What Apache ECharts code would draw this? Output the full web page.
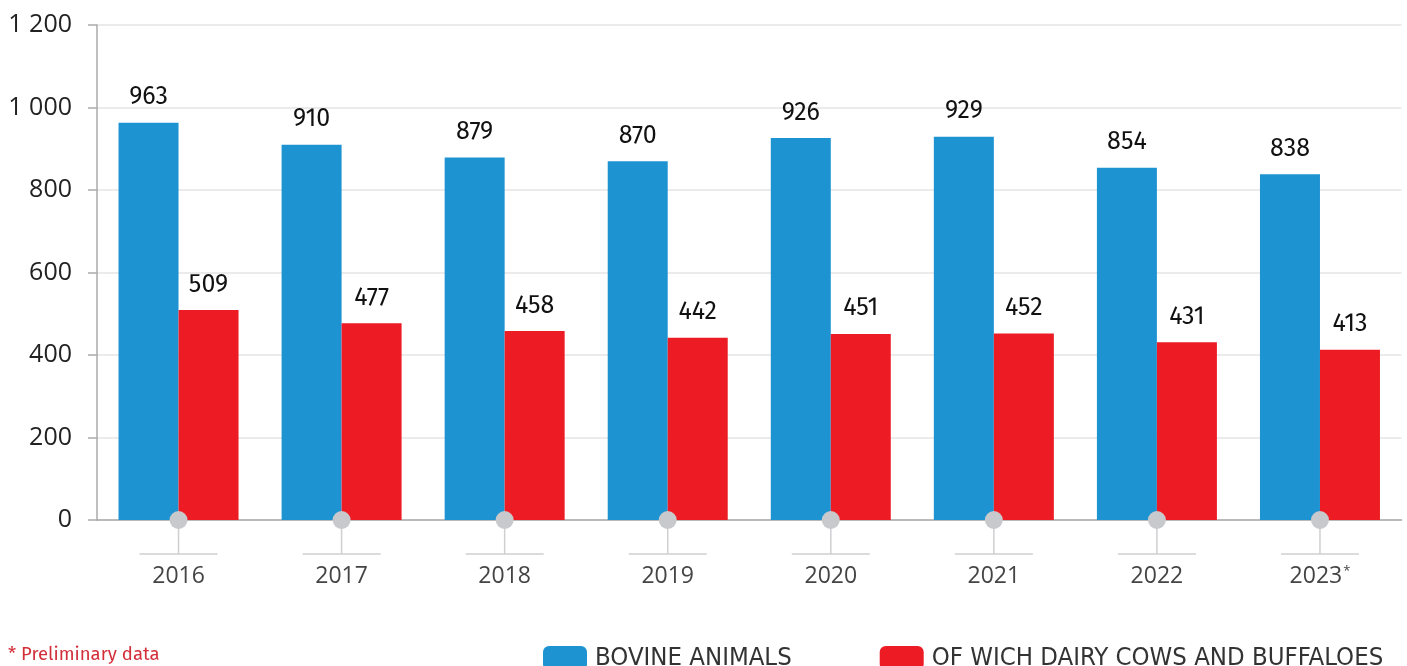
<!DOCTYPE html>
<html>
<head>
<meta charset="utf-8">
<script src="https://cdn.jsdelivr.net/npm/echarts@6/dist/echarts.min.js"></script>
<style>
html,body{margin:0;padding:0;background:#fff;}
#c{width:1407px;height:666px;}
</style>
</head>
<body>
<div id="c"></div>
<script>
const categories = ['2016','2017','2018','2019','2020','2021','2022','2023'];
const bovine = [963, 910, 879, 870, 926, 929, 854, 838];
const dairy = [509, 477, 458, 442, 451, 452, 431, 413];
const yTicks = [0, 200, 400, 600, 800, 1000, 1200];
const seriesNames = ['BOVINE ANIMALS', 'OF WICH DAIRY COWS AND BUFFALOES'];
const footnote = '* Preliminary data';
const preliminary = ['2023'];

const chart = echarts.init(document.getElementById('c'));
const fmtNum = v => String(v).replace(/\B(?=(\d{3})+(?!\d))/g, ' ');

const option = {
  animation: false,
  grid: {left: 97, top: 25, right: 5.5, bottom: 146, containLabel: false},
  legend: {
    data: seriesNames,
    left: 538, top: 640,
    itemWidth: 44, itemHeight: 24, itemGap: 88,
    icon: 'roundRect',
    textStyle: {fontFamily: "'Liberation Sans Narrow','DejaVu Sans Condensed','Roboto',sans-serif", fontSize: 25.5, color: '#333', padding: [2,0,0,3]}
  },
  graphic: [{
    type: 'text', left: 8, top: 645,
    style: {text: footnote, fill: '#d32f3a', font: "18.5px 'Fira Sans','Noto Sans',sans-serif"}
  }],
  xAxis: {
    type: 'category',
    data: categories,
    axisLine: {lineStyle: {color: '#aaaaaa', width: 1.5}},
    axisTick: {show: false},
    axisLabel: {
      interval: 0,
      margin: 45,
      color: '#444',
      fontSize: 23,
      fontFamily: "'Open Sans',sans-serif",
      formatter: v => preliminary.includes(v) ? '{a|' + v + '}{s|*}' : '{a|' + v + '}',
      rich: {
        a: {fontSize: 23, color: '#444', fontFamily: "'Open Sans',sans-serif"},
        s: {fontSize: 13, color: '#444', verticalAlign: 'top', padding: [0,0,10,1], fontFamily: "'Open Sans',sans-serif"}
      }
    }
  },
  yAxis: {
    type: 'value',
    min: 0, max: 1200, interval: 200,
    axisLine: {show: true, lineStyle: {color: '#aaaaaa', width: 1.5}},
    axisTick: {show: true, length: 9, lineStyle: {color: '#aaaaaa', width: 1.5}},
    splitLine: {lineStyle: {color: '#e4e4e4', width: 1.5}},
    axisLabel: {
      margin: 25, color: '#222', fontSize: 25,
      fontFamily: "'Open Sans',sans-serif",
      formatter: v => yTicks.includes(v) ? fmtNum(v) : ''
    }
  },
  series: [
    {
      name: seriesNames[0], type: 'bar', data: bovine,
      barWidth: 60, barGap: '0%',
      itemStyle: {color: '#1e93d2'},
      label: {show: true, position: 'top', distance: 13, color: '#111', fontSize: 25, fontFamily: "'Fira Sans','Noto Sans',sans-serif"}
    },
    {
      name: seriesNames[1], type: 'bar', data: dairy,
      barWidth: 60, barGap: '0%',
      itemStyle: {color: '#ed1c24'},
      label: {show: true, position: 'top', distance: 13, color: '#111', fontSize: 25, fontFamily: "'Fira Sans','Noto Sans',sans-serif"}
    },
    {
      type: 'custom',
      clip: false,
      z: 10,
      silent: true,
      data: categories.map((c, i) => [i, 0]),
      encode: {x: 0, y: 1},
      renderItem: function (params, api) {
        const p = api.coord([api.value(0), api.value(1)]);
        const stroke = {stroke: '#cfcfd1', lineWidth: 1.5};
        return {
          type: 'group',
          children: [
            {type: 'line', shape: {x1: p[0], y1: p[1], x2: p[0], y2: p[1] + 34}, style: stroke},
            {type: 'line', shape: {x1: p[0] - 39, y1: p[1] + 34, x2: p[0] + 39, y2: p[1] + 34}, style: stroke},
            {type: 'circle', shape: {cx: p[0], cy: p[1], r: 9}, style: {fill: '#c8c9cc'}}
          ]
        };
      }
    }
  ]
};
chart.setOption(option);
</script>
</body>
</html>
